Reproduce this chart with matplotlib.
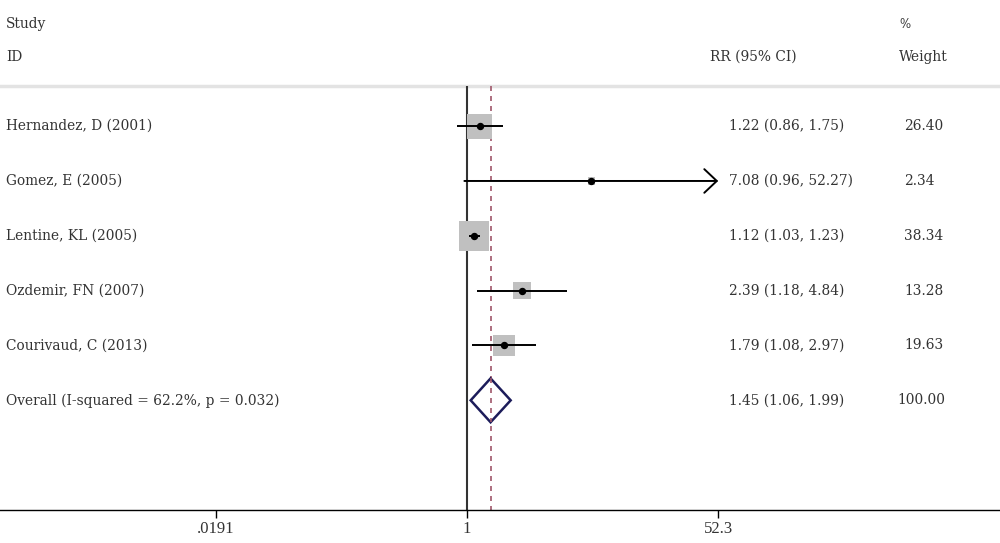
import numpy as np
import matplotlib
matplotlib.use('Agg')
from matplotlib import pyplot as plt

# data
studies = ["Hernandez, D (2001)", "Gomez, E (2005)", "Lentine, KL (2005)",
           "Ozdemir, FN (2007)", "Courivaud, C (2013)"]
rr = [1.22, 7.08, 1.12, 2.39, 1.79]
ci_low = [0.86, 0.96, 1.03, 1.18, 1.08]
ci_high = [1.75, 52.27, 1.23, 4.84, 2.97]
weights = [26.40, 2.34, 38.34, 13.28, 19.63]
overall_label = "Overall (I-squared = 62.2%, p = 0.032)"
overall = [1.45, 1.06, 1.99]
x_ticks = [0.0191, 1, 52.3]
x_ticklabels = [".0191", "1", "52.3"]

plt.rcParams['font.family'] = ['DejaVu Serif']
text_color = '#333333'
fs = 9.9

fig = plt.figure(figsize=(10, 5.43), dpi=100)
ax = fig.add_axes([0, 33 / 543, 1, 510 / 543])
ax.set_xscale('log')
ax.set_xlim(6.4e-4, 4420)
ax.set_ylim(7.0, -2.3)

rows = np.arange(len(studies))
overall_row = len(studies)
sep_row = -0.73
tr = ax.get_yaxis_transform()  # x in axes fraction, y in data

# header
ax.text(0.006, -1.86, "Study", transform=tr, va='center', fontsize=fs, color=text_color)
ax.text(0.006, -1.26, "ID", transform=tr, va='center', fontsize=fs, color=text_color)
ax.text(0.71, -1.26, "RR (95% CI)", transform=tr, va='center', fontsize=fs, color=text_color)
ax.text(0.899, -1.86, "%", transform=tr, va='center', fontsize=8.5, color=text_color)
ax.text(0.899, -1.26, "Weight", transform=tr, va='center', fontsize=fs, color=text_color)
ax.axhline(sep_row, color='#e3e3e3', lw=2.5)

# reference lines
ax.vlines(1, sep_row, 7.0, color='#333333', lw=1.5, zorder=2)
ax.vlines(overall[0], sep_row, 7.0, color='#a0566a', lw=1.2,
          linestyles=(0, (3, 3)), zorder=2)

# weight boxes
ax.scatter(rr, rows, s=np.array(weights) * 12.2, marker='s',
           color='#c0c0c0', edgecolors='none', zorder=3)

for i in rows:
    if ci_high[i] > 30:
        ax.annotate('', xy=(ci_high[i], i), xytext=(ci_low[i], i),
                    arrowprops=dict(arrowstyle='->,head_length=0.9,head_width=0.85',
                                    lw=1.4, color='black', shrinkA=0, shrinkB=0),
                    zorder=4)
    else:
        ax.hlines(i, ci_low[i], ci_high[i], color='black', lw=1.4, zorder=4)
    ax.text(0.006, i, studies[i], transform=tr, va='center', fontsize=fs, color=text_color)
    ax.text(0.729, i, "%.2f (%.2f, %.2f)" % (rr[i], ci_low[i], ci_high[i]),
            transform=tr, va='center', fontsize=fs, color=text_color)
    ax.text(0.904, i, "%.2f" % weights[i], transform=tr, va='center',
            fontsize=fs, color=text_color)

ax.plot(rr, rows, 'o', color='black', markersize=4.3, zorder=5)

# overall diamond
dx = [overall[1], overall[0], overall[2], overall[0], overall[1]]
dy = [overall_row, overall_row - 0.4, overall_row, overall_row + 0.4, overall_row]
ax.fill(dx, dy, facecolor='white', edgecolor='#1c1c5a', lw=1.8, zorder=4)
ax.vlines(overall[0], overall_row - 0.4, overall_row + 0.4, color='#a0566a',
          lw=1.2, linestyles=(0, (3, 3)), zorder=5)
ax.text(0.006, overall_row, overall_label, transform=tr, va='center',
        fontsize=fs, color=text_color)
ax.text(0.729, overall_row, "%.2f (%.2f, %.2f)" % tuple(overall), transform=tr,
        va='center', fontsize=fs, color=text_color)
ax.text(0.897, overall_row, "100.00", transform=tr, va='center',
        fontsize=fs, color=text_color)

# axis
for s in ['top', 'left', 'right']:
    ax.spines[s].set_visible(False)
ax.spines['bottom'].set_linewidth(1.0)
ax.set_yticks([])
ax.set_xticks(x_ticks)
ax.set_xticklabels(x_ticklabels, family='Liberation Serif')
ax.minorticks_off()
ax.tick_params(axis='x', direction='out', length=6, width=1, labelsize=12,
               labelcolor=text_color, pad=2)

fig.savefig('out.png', dpi=100)
